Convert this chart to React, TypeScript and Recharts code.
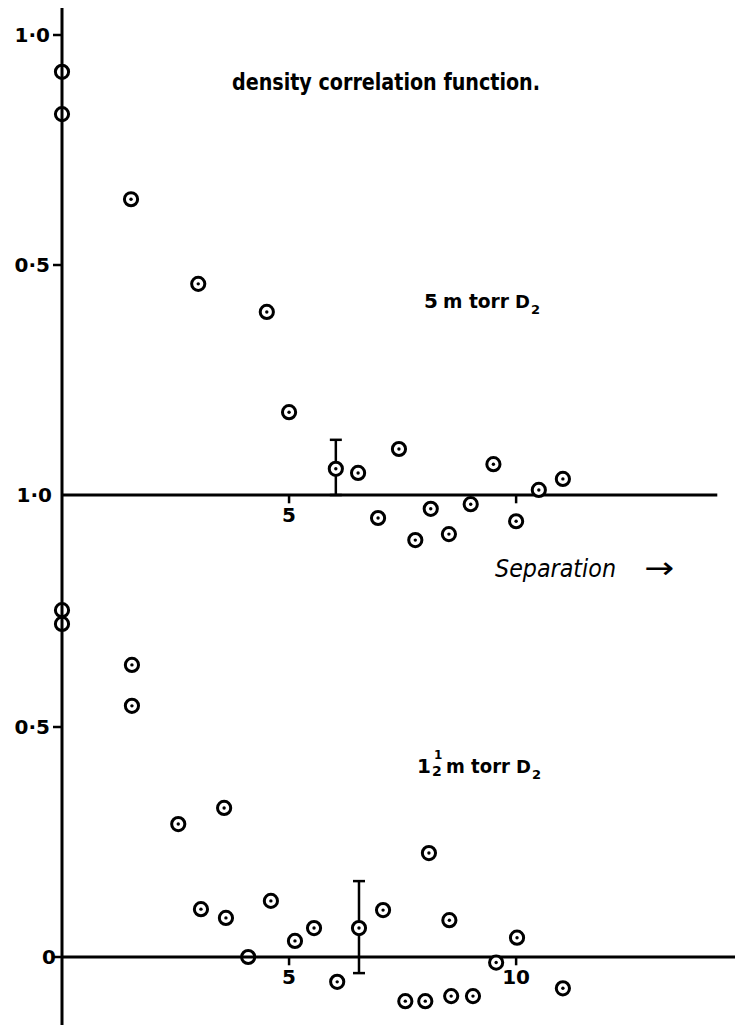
import React from 'react';
import {
  ScatterChart,
  Scatter,
  XAxis,
  YAxis,
  ReferenceLine,
  ErrorBar,
} from 'recharts';

// 5 m torr D2 — separation vs density correlation
const upperSeparation = [0, 0, 1.52, 3.0, 4.51, 5.0, 6.52, 6.96, 7.42, 7.78, 8.12, 8.52, 9.0, 9.5, 10.0, 10.5, 11.03];
const upperCorrelation = [0.92, 0.828, 0.643, 0.459, 0.398, 0.18, 0.048, -0.05, 0.1, -0.098, -0.03, -0.085, -0.02, 0.067, -0.057, 0.011, 0.035];
// point carrying the error bar: [separation, correlation], bar range [low, high]
const upperBarPoint = [6.03, 0.057];
const upperBarRange = [0.0, 0.12];

// 1½ m torr D2
const lowerSeparation = [0, 0, 1.54, 1.54, 2.56, 3.06, 3.57, 3.61, 4.1, 4.6, 5.13, 5.55, 6.06, 7.07, 7.56, 8.0, 8.08, 8.53, 8.57, 9.05, 9.56, 10.02, 11.03];
const lowerCorrelation = [0.754, 0.724, 0.635, 0.546, 0.289, 0.104, 0.324, 0.085, 0.0, 0.122, 0.035, 0.063, -0.054, 0.102, -0.096, -0.096, 0.226, 0.08, -0.085, -0.085, -0.012, 0.042, -0.068];
const lowerBarPoint = [6.54, 0.063];
const lowerBarRange = [-0.035, 0.165];

// axis ticks
const upperTickValues = [0, 0.5, 1];
const upperTickLabels = ['1·0', '0·5', '1·0'];
const lowerTickValues = [0, 0.5];
const lowerTickLabels = ['0', '0·5'];
const upperXTicks = [5, 10];
const upperXTickLabels = ['5', ''];
const lowerXTicks = [5, 10];
const lowerXTickLabels = ['5', '10'];

const X_DOMAIN: [number, number] = [0, 14.82];
const UPPER_Y_DOMAIN: [number, number] = [-0.1304, 1.0587];
const LOWER_Y_DOMAIN: [number, number] = [-0.1478, 0.8739];
const UPPER_AXIS_END = 14.43;
const TICK_DEPTH = 0.018;

const INK = '#000';
const LABEL_FONT = '"DejaVu Sans", "Liberation Sans", sans-serif';

const toPoints = (xs: number[], ys: number[]) =>
  xs.map((x, i) => ({ separation: x, correlation: ys[i] }));

const toBarPoint = (p: number[], range: number[]) => [
  { separation: p[0], correlation: p[1], err: [p[1] - range[0], range[1] - p[1]] },
];

const upperData = toPoints(upperSeparation, upperCorrelation);
const lowerData = toPoints(lowerSeparation, lowerCorrelation);
const upperBarData = toBarPoint(upperBarPoint, upperBarRange);
const lowerBarData = toBarPoint(lowerBarPoint, lowerBarRange);

// dotted ring marker; rings sitting on an axis line are left open
const RingMarker = (props: any) => {
  const { cx, cy, payload } = props;
  if (cx == null || cy == null) return null;
  const onAxis = payload.separation === 0 || Math.abs(payload.correlation) < 0.005;
  return (
    <g>
      <circle cx={cx} cy={cy} r={6.6} fill={onAxis ? 'none' : '#fff'} stroke={INK} strokeWidth={3} />
      {!onAxis && <circle cx={cx} cy={cy} r={1.7} fill={INK} />}
    </g>
  );
};

const makeYTick = (values: number[], labels: string[], noDash: number[], shift: Record<number, number>) =>
  (props: any) => {
    const { x, y, payload } = props;
    const idx = values.indexOf(payload.value);
    const label = idx >= 0 ? labels[idx] : '';
    const dx = shift[payload.value] ?? 0;
    return (
      <g>
        {!noDash.includes(payload.value) && (
          <line x1={x + 3} y1={y} x2={x + 12} y2={y} stroke={INK} strokeWidth={2.5} />
        )}
        <text
          x={x + dx}
          y={y}
          dy={7}
          textAnchor="end"
          fontFamily={LABEL_FONT}
          fontWeight={700}
          fontSize={20}
          fill={INK}
        >
          {label}
        </text>
      </g>
    );
  };

const upperYTick = makeYTick(upperTickValues, upperTickLabels, [0], { 0: 2 });
const lowerYTick = makeYTick(lowerTickValues, lowerTickLabels, [], { 0: 6 });

const xTickLabelStyle = {
  position: 'bottom' as const,
  offset: 5,
  fill: INK,
  fontSize: 20,
  fontWeight: 700,
  fontFamily: LABEL_FONT,
};

const renderXTicks = (ticks: number[], labels: string[]) =>
  ticks.map((t, i) => (
    <ReferenceLine
      key={`xt-${t}`}
      segment={[
        { x: t, y: 0 },
        { x: t, y: -TICK_DEPTH },
      ]}
      stroke={INK}
      strokeWidth={2.5}
      ifOverflow="visible"
      label={labels[i] ? { ...xTickLabelStyle, value: labels[i] } : undefined}
    />
  ));

export default function App() {
  return (
    <div
      style={{
        position: 'absolute',
        left: 0,
        top: 0,
        width: 735,
        height: 1027,
        background: '#fff',
        overflow: 'hidden',
      }}
    >
      <div style={{ position: 'absolute', left: 0, top: 0 }}>
        <ScatterChart width={735} height={555} margin={{ top: 8, right: 0, bottom: 0, left: 12 }}>
          <XAxis type="number" dataKey="separation" domain={X_DOMAIN} hide />
          <YAxis
            type="number"
            dataKey="correlation"
            domain={UPPER_Y_DOMAIN}
            ticks={upperTickValues}
            interval={0}
            width={50}
            tickSize={8}
            tickMargin={4}
            tickLine={false}
            axisLine={{ stroke: INK, strokeWidth: 3 }}
            tick={upperYTick}
          />
          <ReferenceLine
            segment={[
              { x: 0, y: 0 },
              { x: UPPER_AXIS_END, y: 0 },
            ]}
            stroke={INK}
            strokeWidth={3}
            ifOverflow="visible"
          />
          {renderXTicks(upperXTicks, upperXTickLabels)}
          <Scatter data={upperData} shape={RingMarker} isAnimationActive={false} />
          <Scatter data={upperBarData} shape={RingMarker} isAnimationActive={false}>
            <ErrorBar dataKey="err" direction="y" width={6} strokeWidth={2.5} stroke={INK} />
          </Scatter>
        </ScatterChart>
      </div>

      <div style={{ position: 'absolute', left: 0, top: 555 }}>
        <ScatterChart width={735} height={472} margin={{ top: 0, right: 0, bottom: 2, left: 12 }}>
          <XAxis type="number" dataKey="separation" domain={X_DOMAIN} hide />
          <YAxis
            type="number"
            dataKey="correlation"
            domain={LOWER_Y_DOMAIN}
            ticks={lowerTickValues}
            interval={0}
            width={50}
            tickSize={8}
            tickMargin={4}
            tickLine={false}
            axisLine={{ stroke: INK, strokeWidth: 3 }}
            tick={lowerYTick}
          />
          <ReferenceLine y={0} stroke={INK} strokeWidth={3} ifOverflow="visible" />
          {renderXTicks(lowerXTicks, lowerXTickLabels)}
          <Scatter data={lowerData} shape={RingMarker} isAnimationActive={false} />
          <Scatter data={lowerBarData} shape={RingMarker} isAnimationActive={false}>
            <ErrorBar dataKey="err" direction="y" width={6} strokeWidth={2.5} stroke={INK} />
          </Scatter>
        </ScatterChart>
      </div>

      {/* titles and annotations */}
      <svg
        width={735}
        height={1027}
        style={{ position: 'absolute', left: 0, top: 0, pointerEvents: 'none' }}
      >
        <text
          x={232}
          y={90}
          fontFamily={'"DejaVu Sans Condensed", "DejaVu Sans", sans-serif'}
          fontWeight={700}
          fontSize={23}
          textLength={308}
          lengthAdjust="spacingAndGlyphs"
          fill={INK}
        >
          density correlation function.
        </text>

        <g fontFamily={LABEL_FONT} fontWeight={700} fill={INK}>
          <text x={424} y={308} fontSize={20}>5</text>
          <text x={443} y={308} fontSize={19} textLength={66} lengthAdjust="spacingAndGlyphs">m torr</text>
          <text x={515} y={308} fontSize={18}>D</text>
          <text x={531} y={314} fontSize={13}>2</text>

          <text x={417} y={773} fontSize={20}>1</text>
          <text x={434} y={759} fontSize={12}>1</text>
          <text x={432} y={776} fontSize={14}>2</text>
          <text x={446} y={773} fontSize={19} textLength={64} lengthAdjust="spacingAndGlyphs">m torr</text>
          <text x={516} y={773} fontSize={18}>D</text>
          <text x={532} y={779} fontSize={13}>2</text>
        </g>

        <g fontFamily={'"DejaVu Sans", sans-serif'} fontStyle="italic" fill={INK}>
          <text x={495} y={577} fontSize={24} textLength={121} lengthAdjust="spacingAndGlyphs">
            Separation
          </text>
          <text x={644} y={578} fontSize={30} textLength={30} lengthAdjust="spacingAndGlyphs">
            →
          </text>
        </g>
      </svg>
    </div>
  );
}
